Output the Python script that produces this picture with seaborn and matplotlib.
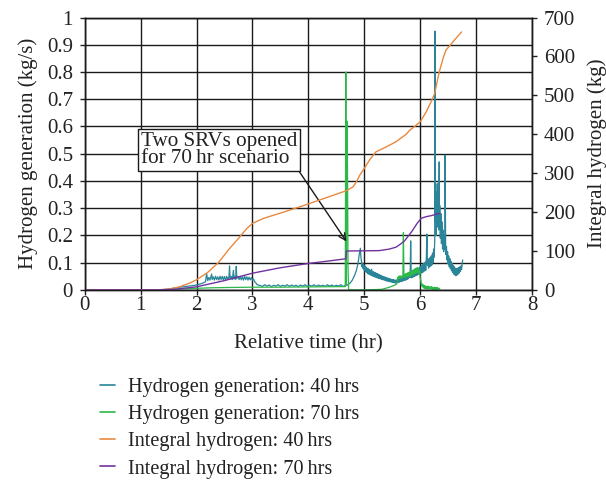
import matplotlib
matplotlib.use("Agg")
import matplotlib.pyplot as plt
import seaborn as sns
import pandas as pd

# Hydrogen generation rate, 40 hr scenario (kg/s)
gen40_time = [
    0.00, 1.30, 1.50, 1.70, 1.90, 2.00, 2.10,
    2.16, 2.18, 2.20, 2.22, 2.24, 2.26, 2.27, 2.28, 2.30, 2.32, 2.34, 2.36, 2.38, 2.40,
    2.42, 2.44, 2.46, 2.48, 2.50, 2.52, 2.54, 2.56, 2.58, 2.59, 2.60, 2.62, 2.64, 2.66,
    2.67, 2.68, 2.70, 2.71, 2.72, 2.74, 2.76, 2.78, 2.80, 2.82, 2.84, 2.86, 2.88, 2.90,
    2.92, 2.94, 2.96, 2.98, 3.00, 3.02, 3.04, 3.06, 3.08, 3.10,
    3.14, 3.18, 3.22, 3.26, 3.30, 3.34, 3.38, 3.42, 3.46, 3.50, 3.54, 3.58, 3.62, 3.66,
    3.70, 3.74, 3.78, 3.82, 3.86, 3.90, 3.94, 3.98, 4.02, 4.06, 4.10, 4.14, 4.18, 4.22,
    4.26, 4.30, 4.34, 4.38, 4.42, 4.46, 4.50, 4.54, 4.58, 4.62, 4.66,
    4.70, 4.74, 4.78, 4.82, 4.86, 4.89, 4.91, 4.93, 4.94,
    4.95, 4.96, 4.97, 4.98, 4.99, 5.00, 5.01, 5.02, 5.03, 5.04, 5.05, 5.06, 5.07, 5.08,
    5.09, 5.10, 5.11, 5.12, 5.13, 5.14, 5.15, 5.16, 5.17, 5.18, 5.19, 5.20, 5.21, 5.22,
    5.23, 5.24, 5.25, 5.26, 5.27, 5.28, 5.29, 5.30, 5.31, 5.32, 5.33, 5.34, 5.35, 5.36,
    5.37, 5.38, 5.39, 5.40, 5.41, 5.42, 5.43, 5.44, 5.45, 5.46, 5.47, 5.48, 5.49, 5.50,
    5.51, 5.52, 5.53, 5.54, 5.55, 5.56, 5.57, 5.58, 5.59, 5.60, 5.61, 5.62, 5.63, 5.64,
    5.65, 5.66, 5.67, 5.68, 5.69, 5.70, 5.71, 5.72, 5.73, 5.74, 5.75, 5.76, 5.77, 5.78,
    5.79, 5.80, 5.81, 5.82, 5.83, 5.84,
    5.85, 5.86, 5.87, 5.88, 5.89, 5.90, 5.91, 5.92, 5.93, 5.94, 5.95, 5.96, 5.97, 5.98,
    5.99, 6.00, 6.01, 6.02, 6.03, 6.04, 6.05, 6.06, 6.07, 6.08, 6.09, 6.10, 6.11, 6.12,
    6.13, 6.14, 6.15, 6.16, 6.17, 6.18, 6.19, 6.20, 6.21, 6.22, 6.23, 6.24, 6.25, 6.26,
    6.265, 6.27, 6.28, 6.285, 6.29, 6.30, 6.305, 6.31, 6.32, 6.33, 6.34, 6.345, 6.35,
    6.36, 6.37, 6.38, 6.39, 6.40, 6.41, 6.42, 6.43, 6.44, 6.445, 6.455, 6.46, 6.47, 6.48,
    6.49, 6.50, 6.51, 6.52, 6.53, 6.54, 6.55, 6.56, 6.57, 6.58, 6.59, 6.60, 6.61, 6.62,
    6.63, 6.64, 6.65, 6.66, 6.67, 6.68, 6.69, 6.70, 6.71, 6.72, 6.73, 6.74, 6.75, 6.76]
gen40_rate = [
    0.000, 0.000, 0.003, 0.010, 0.015, 0.018, 0.024,
    0.030, 0.060, 0.034, 0.046, 0.036, 0.050, 0.058, 0.038, 0.048, 0.036, 0.050, 0.038, 0.048, 0.036,
    0.050, 0.038, 0.050, 0.037, 0.049, 0.036, 0.050, 0.038, 0.048, 0.088, 0.040, 0.050, 0.038, 0.072,
    0.040, 0.050, 0.038, 0.086, 0.042, 0.050, 0.038, 0.050, 0.037, 0.048, 0.036, 0.050, 0.038, 0.048,
    0.036, 0.047, 0.037, 0.045, 0.036, 0.040, 0.030, 0.026, 0.020, 0.018,
    0.016, 0.013, 0.019, 0.014, 0.018, 0.012, 0.017, 0.014, 0.019, 0.013, 0.017, 0.014, 0.019, 0.013,
    0.018, 0.014, 0.017, 0.012, 0.018, 0.014, 0.019, 0.013, 0.017, 0.014, 0.019, 0.013, 0.018, 0.014,
    0.017, 0.013, 0.019, 0.014, 0.018, 0.013, 0.017, 0.014, 0.019, 0.013, 0.016,
    0.018, 0.024, 0.034, 0.050, 0.072, 0.100, 0.130, 0.153, 0.120,
    0.105, 0.085, 0.098, 0.078, 0.092, 0.072, 0.088, 0.068, 0.084, 0.064, 0.080, 0.060, 0.078, 0.058,
    0.075, 0.056, 0.072, 0.054, 0.076, 0.052, 0.068, 0.050, 0.066, 0.048, 0.064, 0.047, 0.062, 0.045,
    0.060, 0.044, 0.058, 0.042, 0.056, 0.041, 0.054, 0.040, 0.052, 0.038, 0.050, 0.037, 0.049, 0.036,
    0.047, 0.034, 0.046, 0.033, 0.044, 0.032, 0.043, 0.031, 0.042, 0.030, 0.040, 0.029, 0.039, 0.028,
    0.038, 0.027, 0.037, 0.026, 0.036, 0.025, 0.036, 0.026, 0.038, 0.027, 0.040, 0.028, 0.042, 0.030,
    0.044, 0.031, 0.046, 0.032, 0.047, 0.034, 0.049, 0.035, 0.050, 0.036, 0.052, 0.038, 0.054, 0.040,
    0.056, 0.045, 0.058, 0.046, 0.180, 0.044,
    0.064, 0.046, 0.066, 0.048, 0.070, 0.050, 0.072, 0.052, 0.074, 0.054, 0.078, 0.056, 0.080, 0.058,
    0.084, 0.060, 0.086, 0.062, 0.090, 0.064, 0.095, 0.066, 0.098, 0.070, 0.102, 0.072, 0.120, 0.205,
    0.090, 0.110, 0.080, 0.115, 0.085, 0.120, 0.088, 0.125, 0.092, 0.135, 0.100, 0.150, 0.120, 0.180,
    0.950, 0.250, 0.330, 0.200, 0.360, 0.230, 0.390, 0.260, 0.340, 0.220, 0.470, 0.240, 0.310,
    0.190, 0.280, 0.170, 0.250, 0.150, 0.220, 0.140, 0.200, 0.150, 0.495, 0.170, 0.130, 0.160, 0.110,
    0.140, 0.095, 0.125, 0.085, 0.115, 0.078, 0.105, 0.070, 0.098, 0.064, 0.090, 0.058, 0.085, 0.055,
    0.080, 0.052, 0.078, 0.055, 0.080, 0.058, 0.082, 0.062, 0.085, 0.068, 0.088, 0.075, 0.095, 0.110]

# Hydrogen generation rate, 70 hr scenario (kg/s)
gen70_time = [
    0.00, 1.40, 1.60, 1.80, 2.00, 2.30, 2.60, 3.00, 3.50, 4.00, 4.50, 4.66, 4.67,
    4.68, 4.69, 4.70, 4.71, 4.72, 5.00, 5.30, 5.35, 5.40, 5.45, 5.50, 5.55, 5.58,
    5.59, 5.60, 5.61, 5.62, 5.63, 5.64, 5.65, 5.66, 5.67, 5.68, 5.69, 5.70, 5.71,
    5.72, 5.73, 5.74, 5.75, 5.76, 5.77, 5.78, 5.79, 5.80, 5.81, 5.82, 5.83, 5.84,
    5.85, 5.86, 5.87, 5.88, 5.89, 5.90, 5.91, 5.92, 5.93, 5.94, 5.95, 5.96, 5.97,
    5.98, 5.99, 6.00, 6.01, 6.02, 6.03, 6.04, 6.05, 6.06, 6.07, 6.08, 6.09, 6.10,
    6.11, 6.12, 6.13, 6.14, 6.15, 6.16, 6.17, 6.18, 6.19, 6.20, 6.21, 6.22, 6.23,
    6.24, 6.25, 6.26, 6.27, 6.28, 6.29, 6.30, 6.31, 6.32, 6.33, 6.34, 6.35]
gen70_rate = [
    0.000, 0.000, 0.002, 0.004, 0.006, 0.008, 0.009, 0.010, 0.010, 0.011, 0.012, 0.012, 0.800,
    0.020, 0.620, 0.450, 0.080, 0.000, 0.000, 0.002, 0.004, 0.007, 0.010, 0.014, 0.018, 0.022,
    0.028, 0.046, 0.040, 0.050, 0.042, 0.052, 0.044, 0.050, 0.043, 0.052, 0.046, 0.210, 0.050,
    0.046, 0.058, 0.048, 0.060, 0.050, 0.062, 0.048, 0.064, 0.052, 0.066, 0.050, 0.068, 0.054,
    0.070, 0.056, 0.072, 0.058, 0.075, 0.060, 0.078, 0.062, 0.080, 0.064, 0.082, 0.066, 0.078,
    0.060, 0.070, 0.045, 0.035, 0.020, 0.014, 0.022, 0.010, 0.018, 0.006, 0.016, 0.005, 0.014,
    0.004, 0.012, 0.003, 0.014, 0.005, 0.012, 0.003, 0.010, 0.004, 0.012, 0.003, 0.010, 0.002,
    0.009, 0.003, 0.010, 0.002, 0.008, 0.003, 0.009, 0.002, 0.007, 0.003, 0.006, 0.004]

# Integral hydrogen, 40 hr scenario (kg)
int40_time = [0.00, 1.30, 1.50, 1.70, 1.90, 2.00, 2.20, 2.39, 2.60, 2.73, 2.90, 3.00, 3.20,
              3.49, 3.75, 4.00, 4.30, 4.68, 4.80, 4.86, 4.92, 4.98, 5.10, 5.21, 5.40, 5.57,
              5.75, 5.81, 5.90, 6.00, 6.11, 6.20, 6.26, 6.31, 6.35, 6.42, 6.46, 6.60, 6.74]
int40_mass = [0, 0, 2, 8, 19, 26, 45, 70, 108, 129, 158, 171, 184,
              197, 209, 221, 236, 255, 265, 278, 295, 308, 335, 355, 368, 381,
              400, 410, 420, 432, 458, 485, 505, 540, 565, 600, 616, 640, 663]

# Integral hydrogen, 70 hr scenario (kg)
int70_time = [0.00, 1.30, 1.60, 2.00, 2.50, 3.00, 3.50, 4.00, 4.40, 4.67, 4.68, 5.00, 5.27,
              5.45, 5.57, 5.65, 5.72, 5.85, 5.95, 6.02, 6.10, 6.20, 6.35]
int70_mass = [0, 0, 1.5, 8, 24, 43, 57, 68, 75, 80, 100, 100.5, 101,
              105, 110, 118, 126, 150, 172, 184, 188, 191, 197]

x_ticks = list(range(0, 9))
left_ticks = [0, 0.1, 0.2, 0.3, 0.4, 0.5, 0.6, 0.7, 0.8, 0.9, 1]
left_ticklabels = ["0", "0.1", "0.2", "0.3", "0.4", "0.5", "0.6", "0.7", "0.8", "0.9", "1"]
right_ticks = [0, 100, 200, 300, 400, 500, 600, 700]

labels = ["Hydrogen generation: 40\u2009hrs", "Hydrogen generation: 70\u2009hrs",
          "Integral hydrogen: 40\u2009hrs", "Integral hydrogen: 70\u2009hrs"]
colors = ["#2a8599", "#2db84a", "#e8893f", "#7232a0"]

sns.set_theme(style="white")
plt.rcParams["font.family"] = ["Liberation Serif", "DejaVu Serif"]
plt.rcParams["text.color"] = "#222222"
plt.rcParams["axes.labelcolor"] = "#222222"
plt.rcParams["xtick.color"] = "#222222"
plt.rcParams["ytick.color"] = "#222222"

fig = plt.figure(figsize=(6.06, 4.8), dpi=100)
ax = fig.add_axes([0.1398, 0.396, 0.7381, 0.5675])
ax2 = ax.twinx()

gen40 = pd.DataFrame({"t": gen40_time, "v": gen40_rate})
gen70 = pd.DataFrame({"t": gen70_time, "v": gen70_rate})
int40 = pd.DataFrame({"t": int40_time, "v": int40_mass})
int70 = pd.DataFrame({"t": int70_time, "v": int70_mass})

sns.lineplot(data=gen40, x="t", y="v", ax=ax, color=colors[0], lw=0.9, estimator=None, sort=False)
sns.lineplot(data=gen70, x="t", y="v", ax=ax, color=colors[1], lw=0.9, estimator=None, sort=False)
sns.lineplot(data=int40, x="t", y="v", ax=ax2, color=colors[2], lw=1.0, estimator=None, sort=False)
sns.lineplot(data=int70, x="t", y="v", ax=ax2, color=colors[3], lw=1.0, estimator=None, sort=False)

ax.set_xlim(0, 8)
ax.set_ylim(0, 1)
ax2.set_ylim(0, 700)
ax.set_xticks(x_ticks)
ax.set_yticks(left_ticks)
ax.set_yticklabels(left_ticklabels)
ax2.set_yticks(right_ticks)

ax.grid(True, color="#1a1a1a", lw=1.0)
ax.set_axisbelow(True)
ax2.grid(False)

for a in (ax, ax2):
    for s in a.spines.values():
        s.set_color("#1a1a1a")
        s.set_linewidth(1.0)
ax.tick_params(axis="x", direction="out", length=3.5, width=1, labelsize=15, pad=1, bottom=True)
ax.tick_params(axis="y", direction="out", length=3.5, width=1, labelsize=15, pad=5, left=True)
ax2.tick_params(axis="y", direction="out", length=3.5, width=1, labelsize=15, pad=5, right=True)

ax.set_xlabel("Relative time (hr)", fontsize=15, labelpad=14)
ax.set_ylabel("Hydrogen generation (kg/s)", fontsize=15, labelpad=6)
ax2.set_ylabel("Integral hydrogen (kg)", fontsize=15, labelpad=9)

ax.annotate("Two SRVs opened\nfor 70\u2009hr scenario",
            xy=(4.68, 0.178), xytext=(1.0, 0.514), textcoords="data",
            ha="left", va="center", fontsize=15.2, linespacing=0.9,
            bbox=dict(boxstyle="square,pad=0.14", fc="white", ec="#1a1a1a", lw=1.0),
            arrowprops=dict(arrowstyle="->", color="#1a1a1a", lw=1.0, relpos=(1, 0),
                            shrinkA=0, shrinkB=0, mutation_scale=12),
            zorder=5)

handles = [plt.Line2D([], [], color=c, lw=1.2) for c in colors]
fig.legend(handles, labels, loc="upper left", bbox_to_anchor=(100 / 606, 1 - 378 / 480),
           frameon=False, fontsize=14.6, handlelength=0.74, handletextpad=0.66,
           labelspacing=0.39, borderpad=0, borderaxespad=0)

fig.savefig("out.png", dpi=100)
